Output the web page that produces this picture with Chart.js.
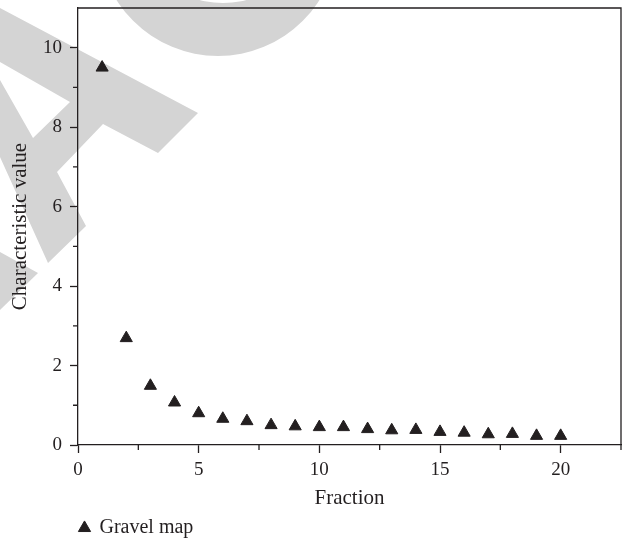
<!DOCTYPE html>
<html>
<head>
<meta charset="utf-8">
<script src="https://cdn.jsdelivr.net/npm/chart.js@4.4.1/dist/chart.umd.min.js"></script>
<style>
  html, body { margin: 0; padding: 0; background: #fff; }
  #wrap { width: 629px; height: 541px; position: relative; }
</style>
</head>
<body>
<div id="wrap"><canvas id="chart"></canvas></div>
<script>
const fractions = [1, 2, 3, 4, 5, 6, 7, 8, 9, 10, 11, 12, 13, 14, 15, 16, 17, 18, 19, 20];
const charValues = [9.50, 2.69, 1.49, 1.07, 0.80, 0.66, 0.60, 0.50, 0.47, 0.45,
                    0.45, 0.40, 0.37, 0.38, 0.33, 0.31, 0.27, 0.28, 0.23, 0.23];

const xMajorTicks = [0, 5, 10, 15, 20];
const xMinorTicks = [2.5, 7.5, 12.5, 17.5, 22.5];
const yMajorTicks = [0, 2, 4, 6, 8, 10];
const yMinorTicks = [1, 3, 5, 7, 9];

const ink = "#231f20";
const serif = "'Liberation Serif', 'Times New Roman', serif";

// grey watermark shapes sitting behind the plot
const watermark = {
  id: "watermark",
  beforeDraw(chart) {
    const ctx = chart.ctx;
    ctx.save();
    ctx.fillStyle = "#d4d4d4";

    ctx.beginPath();
    ctx.arc(218, -64, 120, 0, Math.PI * 2);
    ctx.moveTo(223 + 93, -90);
    ctx.arc(223, -90, 93, 0, Math.PI * 2);
    ctx.fill("evenodd");

    const shapes = [
      [[0, 8], [198, 113], [158, 153], [103, 124], [57, 172], [86, 226], [48, 263],
       [0, 157], [0, 80], [33, 138], [70, 102], [0, 62]],
      [[0, 252], [38, 273], [0, 310]]
    ];
    for (const pts of shapes) {
      ctx.beginPath();
      ctx.moveTo(pts[0][0], pts[0][1]);
      for (const p of pts.slice(1)) ctx.lineTo(p[0], p[1]);
      ctx.closePath();
      ctx.fill();
    }
    ctx.restore();
  }
};

// box around the plot + short minor ticks
const frame = {
  id: "frame",
  afterLayout(chart) {
    // push the legend under the y axis and a bit lower
    chart.legend.left += 75.5;
    chart.legend.right += 75.5;
    chart.legend.top += 7;
    chart.legend.bottom += 7;
  },
  afterDraw(chart) {
    const ctx = chart.ctx;
    const a = chart.chartArea;
    const xs = chart.scales.x;
    const ys = chart.scales.y;
    ctx.save();
    ctx.strokeStyle = ink;
    ctx.lineWidth = 1.3;
    ctx.beginPath();
    ctx.moveTo(a.left, a.top);
    ctx.lineTo(a.right, a.top);
    ctx.lineTo(a.right, a.bottom);
    for (const v of xMinorTicks) {
      const px = xs.getPixelForValue(v);
      ctx.moveTo(px, a.bottom);
      ctx.lineTo(px, a.bottom + 5);
    }
    for (const v of yMinorTicks) {
      const py = ys.getPixelForValue(v);
      ctx.moveTo(a.left, py);
      ctx.lineTo(a.left - 5, py);
    }
    ctx.stroke();
    ctx.restore();
  }
};

const points = fractions.map((f, i) => ({ x: f, y: charValues[i] }));

new Chart("chart", {
  type: "scatter",
  data: {
    datasets: [{
      label: "Gravel map",
      data: points,
      pointStyle: "triangle",
      pointRadius: 7,
      pointHoverRadius: 7,
      backgroundColor: ink,
      borderColor: ink,
      pointBorderWidth: 1
    }]
  },
  options: {
    responsive: true,
    maintainAspectRatio: false,
    animation: false,
    layout: { padding: { top: 7, right: 7, left: 0, bottom: 0 } },
    plugins: {
      tooltip: { enabled: false },
      legend: {
        position: "bottom",
        align: "start",
        labels: {
          usePointStyle: true,
          boxWidth: 10,
          boxHeight: 10,
          color: ink,
          padding: 4,
          font: { family: serif, size: 20 }
        }
      }
    },
    scales: {
      x: {
        type: "linear",
        min: 0,
        max: 22.5,
        afterBuildTicks: s => { s.ticks = xMajorTicks.map(v => ({ value: v })); },
        afterFit: s => { s.paddingLeft = 0; s.paddingRight = 0; s.height -= 2; },
        ticks: { color: ink, padding: 6, font: { family: serif, size: 19 } },
        grid: { drawOnChartArea: false, tickLength: 8, color: ink, tickWidth: 1.3 },
        border: { color: ink, width: 1.3 },
        title: {
          display: true,
          text: "Fraction",
          color: ink,
          padding: { top: 0, bottom: -4 },
          font: { family: serif, size: 21 }
        }
      },
      y: {
        type: "linear",
        min: 0,
        max: 11,
        afterBuildTicks: s => { s.ticks = yMajorTicks.map(v => ({ value: v })); },
        afterFit: s => { s.width = 78; s.paddingTop = 0; s.paddingBottom = 0; },
        ticks: { color: ink, padding: 8, font: { family: serif, size: 19 } },
        grid: { drawOnChartArea: false, tickLength: 8, color: ink, tickWidth: 1.3 },
        border: { color: ink, width: 1.3 },
        title: {
          display: true,
          text: "Characteristic value",
          color: ink,
          padding: { top: 8, bottom: 0 },
          font: { family: serif, size: 21 }
        }
      }
    }
  },
  plugins: [watermark, frame]
});
</script>
</body>
</html>
